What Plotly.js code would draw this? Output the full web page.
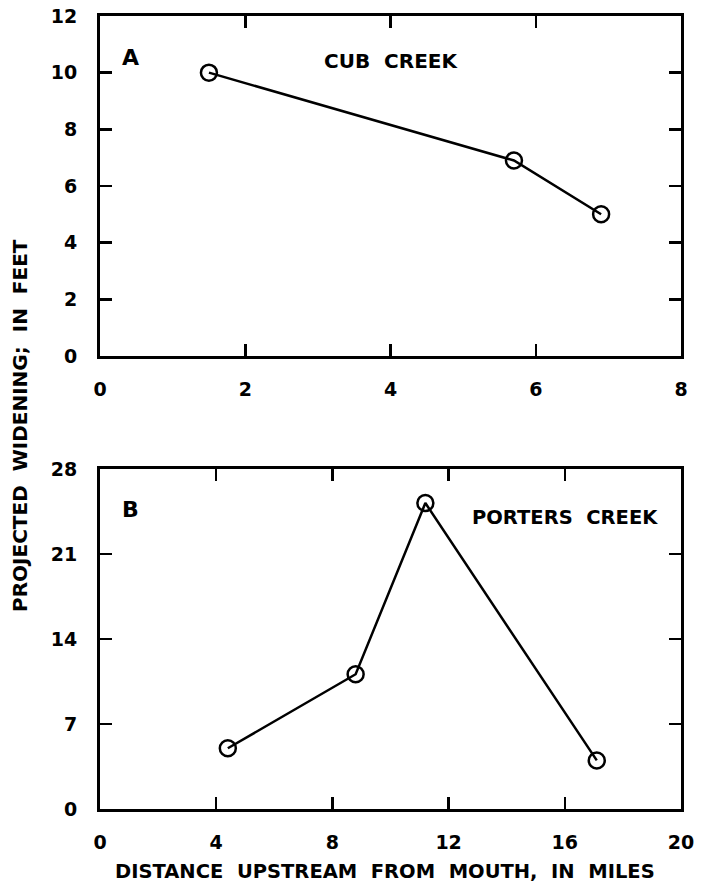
<!DOCTYPE html>
<html>
<head>
<meta charset="utf-8">
<script src="https://cdn.plot.ly/plotly-3.0.1.min.js"></script>
<style>
  html, body { margin: 0; padding: 0; background: #fff; }
  #chart { width: 709px; height: 892px; }
</style>
</head>
<body>
<div id="chart"></div>
<script>
// Panel A: Cub Creek
const cubMiles = [1.5, 5.7, 6.9];
const cubWidening = [10, 6.9, 5];

// Panel B: Porters Creek
const portersMiles = [4.4, 8.8, 11.2, 17.1];
const portersWidening = [5, 11.1, 25.2, 4];

const ticksA_x = [0, 2, 4, 6, 8];
const ticksA_y = [0, 2, 4, 6, 8, 10, 12];
const ticksB_x = [0, 4, 8, 12, 16, 20];
const ticksB_y = [0, 7, 14, 21, 28];

const FONT = 'DejaVu Sans, Liberation Sans, sans-serif';
const NB = '\u00a0';
const gap = NB + NB;

const lineStyle = { color: '#000', width: 2.5 };
const markerStyle = { symbol: 'circle-open', size: 16, color: '#000', line: { color: '#000', width: 2.5 } };

const traces = [
  { x: cubMiles, y: cubWidening, xaxis: 'x', yaxis: 'y', mode: 'lines+markers',
    line: lineStyle, marker: markerStyle, hoverinfo: 'skip' },
  { x: portersMiles, y: portersWidening, xaxis: 'x2', yaxis: 'y2', mode: 'lines+markers',
    line: lineStyle, marker: markerStyle, hoverinfo: 'skip' }
];

function axis(range, vals, extra) {
  return Object.assign({
    range: range, tickvals: vals, ticktext: vals.map(String),
    showgrid: false, zeroline: false,
    showline: true, linecolor: '#000', linewidth: 3, mirror: 'allticks',
    ticks: 'inside', ticklen: 12, tickwidth: 2.5, tickcolor: '#000',
    tickfont: { family: FONT, size: 19, color: '#000', weight: 'bold' },
    fixedrange: true
  }, extra);
}

function label(text, px, py, size, extra) {
  return Object.assign({
    text: text, xref: 'paper', yref: 'paper',
    x: (px - 100) / 581, y: (809 - py) / 793,
    showarrow: false, xanchor: 'center', yanchor: 'middle',
    font: { family: FONT, size: size, color: '#000', weight: 'bold' }
  }, extra || {});
}

const layout = {
  width: 709, height: 892,
  margin: { l: 100, r: 28, t: 16, b: 83 },
  paper_bgcolor: '#fff', plot_bgcolor: '#fff',
  showlegend: false,
  xaxis: axis([0, 8], ticksA_x, { anchor: 'y', domain: [0, 1], ticklabelstandoff: 14 }),
  yaxis: axis([0, 12], ticksA_y, { anchor: 'x', domain: [0.5713, 1], ticklabelstandoff: 16 }),
  xaxis2: axis([0, 20], ticksB_x, { anchor: 'y2', domain: [0, 1], ticklabelstandoff: 14 }),
  yaxis2: axis([0, 28], ticksB_y, { anchor: 'x2', domain: [0, 0.4287], ticklabelstandoff: 16 }),
  annotations: [
    label('A', 130, 57, 22),
    label('CUB' + gap + 'CREEK', 391, 61, 20),
    label('B', 130, 509, 22),
    label('PORTERS' + gap + 'CREEK', 565, 517, 19.5),
    label('PROJECTED' + gap + 'WIDENING;' + gap + 'IN' + gap + 'FEET', 20, 426, 20, { textangle: -90 }),
    label('DISTANCE' + gap + 'UPSTREAM' + gap + 'FROM' + gap + 'MOUTH,' + gap + 'IN' + gap + 'MILES', 385, 871, 19.5)
  ]
};

Plotly.newPlot('chart', traces, layout, { displayModeBar: false, staticPlot: true });
</script>
</body>
</html>
